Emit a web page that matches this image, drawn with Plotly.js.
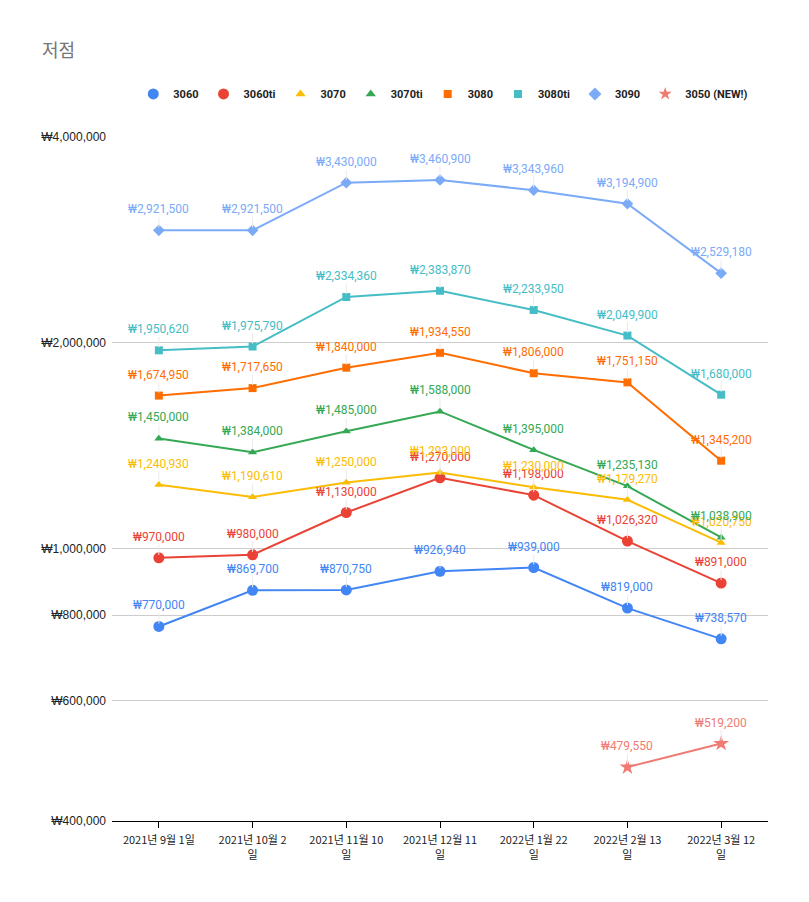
<!DOCTYPE html>
<html><head><meta charset="utf-8">
<script src="https://cdn.plot.ly/plotly-3.0.1.min.js"></script>
<style>html,body{margin:0;padding:0;background:#fff}#c{width:809px;height:902px}</style>
</head><body><div id="c"></div>
<script>
const categories = ["2021년 9월 1일","2021년 10월 2<br>일","2021년 11월 10<br>일","2021년 12월 11<br>일","2022년 1월 22<br>일","2022년 2월 13<br>일","2022년 3월 12<br>일"];
const s3060   = [770000, 869700, 870750, 926940, 939000, 819000, 738570];
const s3060ti = [970000, 980000, 1130000, 1270000, 1198000, 1026320, 891000];
const s3070   = [1240930, 1190610, 1250000, 1293000, 1230000, 1179270, 1020750];
const s3070ti = [1450000, 1384000, 1485000, 1588000, 1395000, 1235130, 1038900];
const s3080   = [1674950, 1717650, 1840000, 1934550, 1806000, 1751150, 1345200];
const s3080ti = [1950620, 1975790, 2334360, 2383870, 2233950, 2049900, 1680000];
const s3090   = [2921500, 2921500, 3430000, 3460900, 3343960, 3194900, 2529180];
const s3050   = [null, null, null, null, null, 479550, 519200];
const yTickVals = [400000, 600000, 800000, 1000000, 2000000, 4000000];
const yTickText = ["₩400,000","₩600,000","₩800,000","₩1,000,000","₩2,000,000","₩4,000,000"];

const series = [
  {name:"3060", data:s3060, color:"#4285F4", symbol:"circle", size:11, lsize:11},
  {name:"3060ti", data:s3060ti, color:"#EA4335", symbol:"circle", size:11, lsize:11},
  {name:"3070", data:s3070, color:"#FBBC04", symbol:"triangle-up", size:8, lsize:9},
  {name:"3070ti", data:s3070ti, color:"#34A853", symbol:"triangle-up", size:8, lsize:9},
  {name:"3080", data:s3080, color:"#FF6D01", symbol:"square", size:8, lsize:8},
  {name:"3080ti", data:s3080ti, color:"#46BDC6", symbol:"square", size:8, lsize:8},
  {name:"3090", data:s3090, color:"#7BAAF7", symbol:"diamond", size:9, lsize:10},
  {name:"3050 (NEW!)", data:s3050, color:"#F07B72", symbol:"star", size:12, lsize:10}
];
const fmt = v => "₩" + v.toLocaleString("en-US");
const traces = [];
const annotations = [];
series.forEach(s => {
  traces.push({x:categories, y:s.data, type:"scatter", mode:"lines+markers", name:s.name,
    showlegend:false, hoverinfo:"skip",
    line:{color:s.color, width:2}, marker:{color:s.color, symbol:s.symbol, size:s.size}});
  traces.push({x:[null], y:[null], type:"scatter", mode:"markers", name:s.name,
    showlegend:true, hoverinfo:"skip", marker:{color:s.color, symbol:s.symbol, size:s.lsize}});
  s.data.forEach((v,i) => {
    if (v == null) return;
    annotations.push({x:categories[i], y:Math.log10(v), xref:"x", yref:"y",
      text:fmt(v), showarrow:true, arrowhead:0, arrowwidth:1, arrowcolor:"#ebebeb",
      ax:0, ay:-21, standoff:3, borderpad:0,
      font:{family:"Roboto, sans-serif", size:12, color:s.color}});
  });
});
annotations.push({xref:"paper", yref:"paper", x:-0.11, y:1.128, xanchor:"left", yanchor:"middle",
  showarrow:false, text:"저점", font:{family:"Noto Sans CJK KR, sans-serif", size:18, color:"#757575"}});

const layout = {
  width:809, height:902,
  margin:{l:112, r:41, t:137, b:81},
  paper_bgcolor:"#fff", plot_bgcolor:"#fff",
  showlegend:true,
  legend:{orientation:"h", x:0.505, xanchor:"center", y:1.063, yanchor:"middle",
    font:{family:"Roboto, sans-serif", size:11, color:"#222", weight:700},
    itemwidth:30, traceorder:"normal"},
  xaxis:{type:"category", showgrid:false, showline:true, linecolor:"#000", linewidth:1,
    ticks:"outside", ticklen:6, tickcolor:"#000", ticklabelstandoff:3,
    tickfont:{family:"Noto Sans CJK KR, sans-serif", size:11, color:"#222"},
    range:[-0.5, 6.5], fixedrange:true},
  yaxis:{type:"log", range:[Math.log10(400000), Math.log10(4000000)],
    tickvals:yTickVals, ticktext:yTickText, showgrid:true, gridcolor:"#cccccc", gridwidth:1,
    zeroline:false, showline:false, ticks:"", ticklabelstandoff:5,
    tickfont:{family:"Liberation Sans, Arial, sans-serif", size:12, color:"#222"}},
  annotations:annotations
};
Plotly.newPlot("c", traces, layout, {staticPlot:true});
</script>
</body></html>
